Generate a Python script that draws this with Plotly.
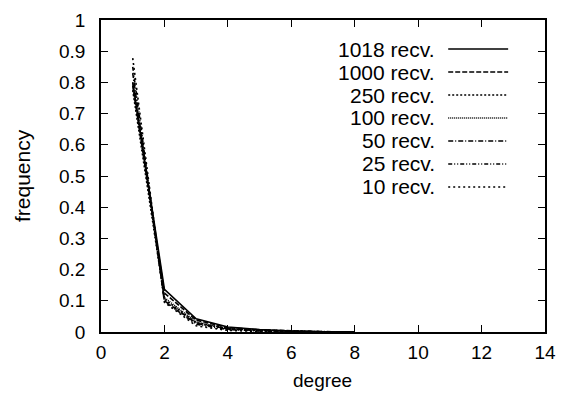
import plotly.graph_objects as go

degree = [1, 2, 3, 4, 5, 6, 7, 8]
series_names = ["1018 recv.", "1000 recv.", "250 recv.", "100 recv.", "50 recv.", "25 recv.", "10 recv."]
series_values = [
    [0.800, 0.137, 0.042, 0.016, 0.008, 0.003, 0.001, 0.0],
    [0.790, 0.125, 0.038, 0.014, 0.007, 0.003, 0.001, 0.0],
    [0.775, 0.105, 0.030, 0.010, 0.005, 0.002, 0.001, 0.0],
    [0.800, 0.110, 0.032, 0.011, 0.006, 0.002, 0.0, 0.0],
    [0.830, 0.100, 0.028, 0.010, 0.004, 0.002, 0.0, 0.0],
    [0.850, 0.098, 0.025, 0.008, 0.003, 0.001, 0.0, 0.0],
    [0.878, 0.095, 0.020, 0.005, 0.002, 0.0, 0.0, 0.0],
]
dashes = ["solid", "5px,2px", "2px,2px", "1px,1px", "5px,2px,1px,2px", "4px,2px,1px,2px,1px,2px", "2px,3px"]
x_ticks = [0, 2, 4, 6, 8, 10, 12, 14]
y_ticks = [0, 0.1, 0.2, 0.3, 0.4, 0.5, 0.6, 0.7, 0.8, 0.9, 1]
y_tick_labels = ["0", "0.1", "0.2", "0.3", "0.4", "0.5", "0.6", "0.7", "0.8", "0.9", "1"]

fig = go.Figure()
for name, vals, d in zip(series_names, series_values, dashes):
    fig.add_trace(go.Scatter(x=degree, y=vals, mode="lines", name=name,
                             line=dict(color="black", width=1.6, dash=d), showlegend=False))

fam = "Liberation Sans, Arial, sans-serif"
tick_font = dict(family=fam, size=19, color="black")
leg_font = dict(family=fam, size=21, color="black")

# manual gnuplot-style legend (text right-aligned, sample line to the right)
leg_top = 0.907
leg_step = 0.0737
for i, (name, d) in enumerate(zip(series_names, dashes)):
    yy = leg_top - i * leg_step
    fig.add_annotation(x=0.757, y=yy, xref="paper", yref="paper", text=name,
                       showarrow=False, xanchor="right", yanchor="middle", font=leg_font)
    fig.add_shape(type="line", xref="paper", yref="paper", x0=0.782, x1=0.917, y0=yy, y1=yy,
                  line=dict(color="black", width=1.4, dash=d))

fig.add_annotation(x=0.498, y=-0.157, xref="paper", yref="paper", text="degree", showarrow=False,
                   xanchor="center", yanchor="middle", font=dict(family=fam, size=19, color="black"))
fig.add_annotation(x=-0.178, y=0.503, xref="paper", yref="paper", text="frequency", showarrow=False,
                   textangle=-90, xanchor="center", yanchor="middle",
                   font=dict(family=fam, size=21, color="black"))

axis_common = dict(showline=True, linecolor="black", linewidth=1.5, mirror="ticks",
                   ticks="inside", ticklen=7, tickcolor="black", tickwidth=1.2,
                   showgrid=False, zeroline=False, tickfont=tick_font, automargin=False)
fig.update_layout(
    width=562, height=399,
    margin=dict(l=101, r=17, t=20, b=67),
    paper_bgcolor="white", plot_bgcolor="white",
    xaxis=dict(range=[0, 14], tickvals=x_ticks, ticklabelstandoff=2, **axis_common),
    yaxis=dict(range=[0, 1], tickvals=y_ticks, ticktext=y_tick_labels, ticklabelstandoff=10,
               **axis_common),
)
fig.write_html("out.html")
